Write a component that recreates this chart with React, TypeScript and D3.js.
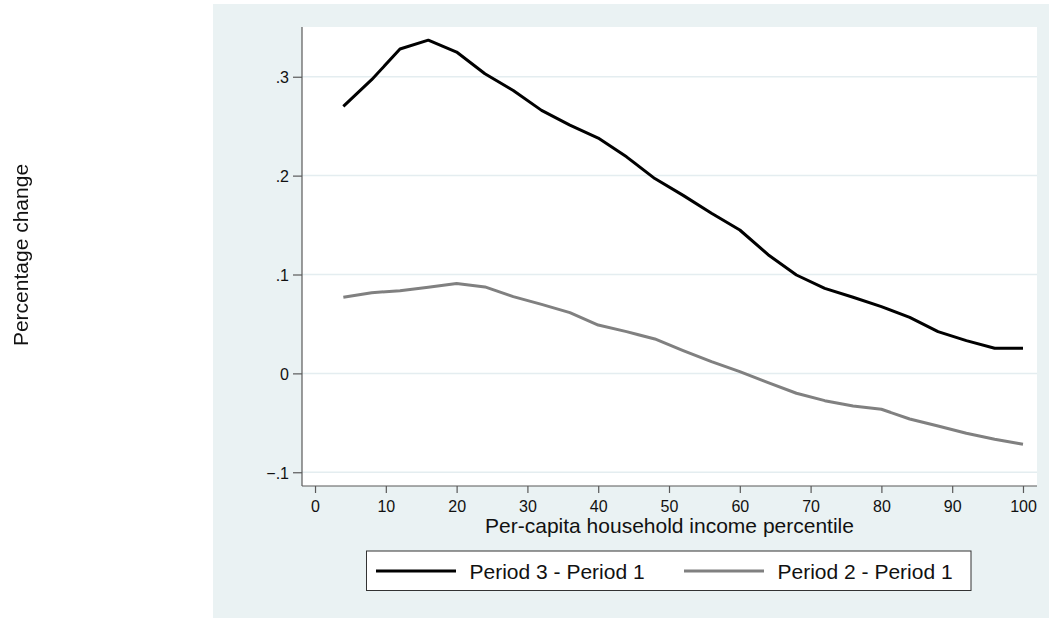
import React, { useEffect, useRef } from 'react';
import * as d3 from 'd3';

// Percentile grid (x) and the two series
const percentiles = [4, 8, 12, 16, 20, 24, 28, 32, 36, 40, 44, 48, 52, 56, 60, 64, 68, 72, 76, 80, 84, 88, 92, 96, 100];
const period3vs1 = [0.270, 0.297, 0.328, 0.337, 0.325, 0.303, 0.286, 0.266, 0.251, 0.238, 0.219, 0.197, 0.180, 0.162, 0.145, 0.120, 0.0995, 0.086, 0.077, 0.0675, 0.0567, 0.0422, 0.0331, 0.0254, 0.0254];
const period2vs1 = [0.077, 0.0816, 0.0836, 0.087, 0.091, 0.0874, 0.0776, 0.0698, 0.0614, 0.0489, 0.0422, 0.0348, 0.023, 0.0118, 0.0017, -0.0094, -0.0201, -0.0276, -0.033, -0.0363, -0.0461, -0.0532, -0.0606, -0.0667, -0.0717];
const xTicks = [0, 10, 20, 30, 40, 50, 60, 70, 80, 90, 100];
const yTicks = [-0.1, 0, 0.1, 0.2, 0.3];
const seriesNames = ['Period 3 - Period 1', 'Period 2 - Period 1'];
const seriesColors = ['#000000', '#808080'];

const FONT = '"Liberation Sans", Arial, Helvetica, sans-serif';

export default function App() {
  const svgRef = useRef<SVGSVGElement | null>(null);

  useEffect(() => {
    const width = 1049;
    const height = 618;
    const plot = { left: 302, right: 1037, top: 27, bottom: 486 };

    const svg = d3.select(svgRef.current).attr('width', width).attr('height', height);
    svg.selectAll('*').remove();

    // Graph region + plot region backgrounds
    svg.append('rect').attr('x', 213).attr('y', 4).attr('width', width - 213).attr('height', height - 4)
      .attr('fill', '#eaf2f3');
    svg.append('rect').attr('x', plot.left).attr('y', plot.top)
      .attr('width', plot.right - plot.left).attr('height', plot.bottom - plot.top).attr('fill', '#ffffff');

    const x = d3.scaleLinear().domain([-1.84, 101.98]).range([plot.left, plot.right]);
    const y = d3.scaleLinear().domain([-0.1139, 0.3503]).range([plot.bottom, plot.top]);

    const fmtY = (d: number) => (d === 0 ? '0' : d3.format('.1f')(d).replace('0.', '.'));

    // Grid lines
    svg.append('g').selectAll('line').data(yTicks).join('line')
      .attr('x1', plot.left).attr('x2', plot.right)
      .attr('y1', d => y(d)).attr('y2', d => y(d))
      .attr('stroke', '#e4edf0').attr('stroke-width', 1.5);

    // Y axis
    const yAxis = svg.append('g').attr('transform', `translate(${plot.left},0)`)
      .call(d3.axisLeft(y).tickValues(yTicks).tickFormat(d => fmtY(+d)).tickSize(9).tickPadding(4).tickSizeOuter(0));
    yAxis.select('.domain').attr('d', `M0,${plot.top}V${plot.bottom}`).attr('stroke', '#595959').attr('stroke-width', 1.2);
    yAxis.selectAll('.tick line').attr('stroke', '#595959').attr('stroke-width', 1.2);
    yAxis.selectAll('.tick text').attr('fill', '#111').attr('font-size', 16).attr('font-family', FONT).attr('dy', '0.36em');

    // X axis
    const xAxis = svg.append('g').attr('transform', `translate(0,${plot.bottom})`)
      .call(d3.axisBottom(x).tickValues(xTicks).tickFormat(d3.format('d')).tickSize(7).tickPadding(8).tickSizeOuter(0));
    xAxis.select('.domain').attr('d', `M${plot.left},0H${plot.right}`).attr('stroke', '#595959').attr('stroke-width', 1.2);
    xAxis.selectAll('.tick line').attr('stroke', '#595959').attr('stroke-width', 1.2);
    xAxis.selectAll('.tick text').attr('fill', '#111').attr('font-size', 16).attr('font-family', FONT);

    // Axis titles
    svg.append('text').attr('x', (plot.left + plot.right) / 2).attr('y', 533)
      .attr('text-anchor', 'middle').attr('font-size', 21).attr('font-family', FONT).attr('fill', '#111')
      .text('Per-capita household income percentile');
    svg.append('text').attr('transform', `translate(28,255) rotate(-90)`)
      .attr('text-anchor', 'middle').attr('font-size', 21).attr('font-family', FONT).attr('fill', '#111')
      .text('Percentage change');

    // Lines
    const line = d3.line<number>().x((_, i) => x(percentiles[i])).y(d => y(d));
    [period3vs1, period2vs1].forEach((s, k) => {
      svg.append('path').datum(s).attr('d', line).attr('fill', 'none')
        .attr('stroke', seriesColors[k]).attr('stroke-width', 3).attr('stroke-linejoin', 'round');
    });

    // Legend
    const lg = svg.append('g');
    lg.append('rect').attr('x', 366.5).attr('y', 551).attr('width', 604.5).attr('height', 39.5)
      .attr('fill', '#ffffff').attr('stroke', '#333').attr('stroke-width', 1);
    const keyX = [376, 684];
    seriesNames.forEach((name, k) => {
      lg.append('line').attr('x1', keyX[k]).attr('x2', keyX[k] + 80).attr('y1', 571).attr('y2', 571)
        .attr('stroke', seriesColors[k]).attr('stroke-width', 3);
      lg.append('text').attr('x', keyX[k] + 93.5).attr('y', 578.5).attr('font-size', 21)
        .attr('font-family', FONT).attr('fill', '#111').text(name);
    });
  }, []);

  return (
    <div style={{ position: 'fixed', left: 0, top: 0 }}>
      <svg ref={svgRef} style={{ display: 'block' }} />
    </div>
  );
}
